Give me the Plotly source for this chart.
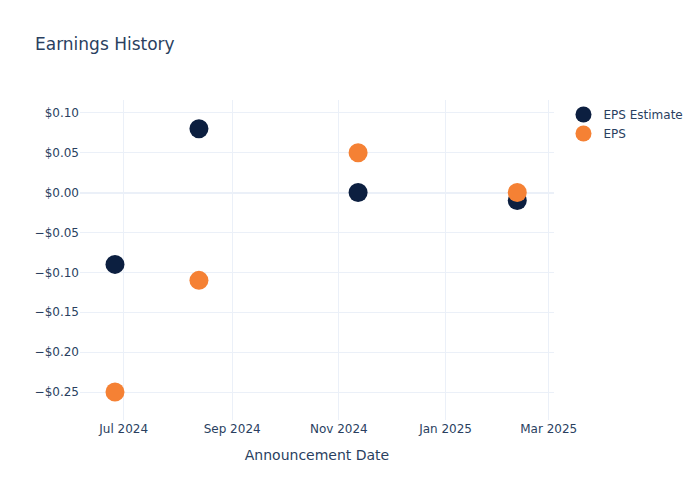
import plotly.graph_objects as go

dates = ["2024-06-26", "2024-08-13", "2024-11-12", "2025-02-11"]
eps_estimate = [-0.09, 0.08, 0.00, -0.01]
eps_actual = [-0.25, -0.11, 0.05, 0.00]

fig = go.Figure()
fig.add_trace(
    go.Scatter(
        x=dates,
        y=eps_estimate,
        mode="markers",
        name="EPS Estimate",
        marker={"color": "#0c1f40", "size": 19},
    )
)
fig.add_trace(
    go.Scatter(
        x=dates,
        y=eps_actual,
        mode="markers",
        name="EPS",
        marker={"color": "#f58134", "size": 19},
    )
)

fig.update_layout(
    template="plotly_white",
    width=700,
    height=500,
    font_family="DejaVu Sans",
    title_text="Earnings History",
    xaxis_title="Announcement Date",
)
fig.update_xaxes(
    range=["2024-06-06", "2025-03-04"],
    dtick="M2",
    tickformat="%b %Y",
)
fig.update_yaxes(range=[-0.285, 0.116], tickformat="$.2f", dtick=0.05)

# page flush with the window corner, like a static export
fig.write_html(
    "out.html",
    config={"displayModeBar": False},
    post_script="document.body.style.margin='0px';",
)
